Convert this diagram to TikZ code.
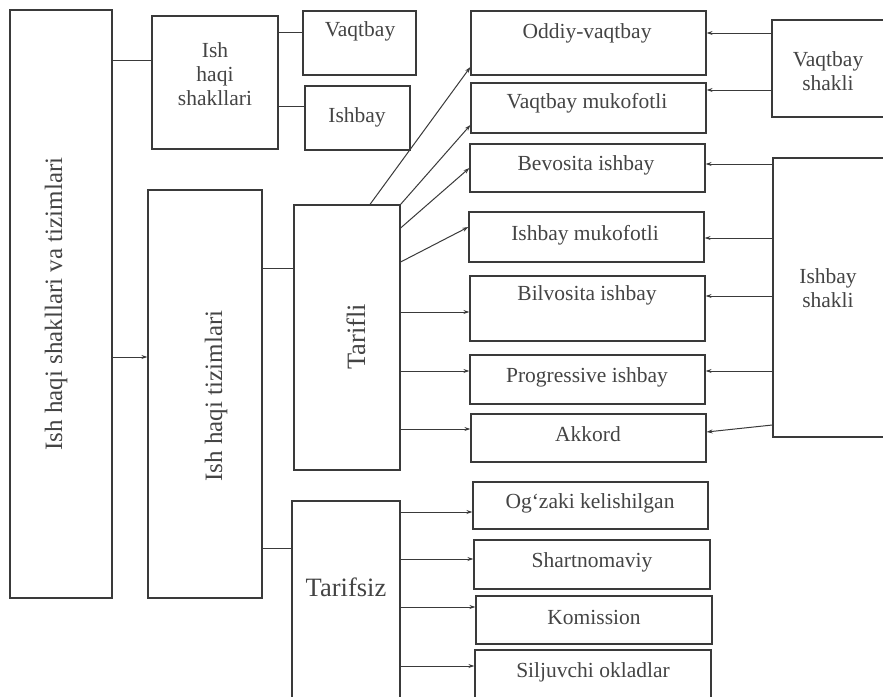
\documentclass[tikz,border=0pt]{standalone}
\usepackage{fontspec}
\setmainfont{Liberation Serif}
\usetikzlibrary{arrows.meta}
\definecolor{ink}{HTML}{3A3A3A}
\definecolor{txt}{HTML}{444444}
\tikzset{
  box/.style={draw=ink, line width=1.2pt, inner sep=0pt},
  ln/.style={draw=ink, line width=1pt},
  arr/.style={draw=ink, line width=1pt, -{Stealth[length=6pt,width=4pt]}},
  lbl/.style={text=txt, inner sep=0pt, font=\fontsize{21.5}{24}\selectfont, align=center},
  biglbl/.style={text=txt, inner sep=0pt, font=\fontsize{25}{28}\selectfont},
  midlbl/.style={text=txt, inner sep=0pt, font=\fontsize{26.5}{28}\selectfont},
}
\newcommand\bx[5]{\node[box, minimum width={(#4-#2)*1pt}, minimum height={(#5-#3)*1pt}] (#1) at ({(#2+#4)/2},{(#3+#5)/2}) {};}
\begin{document}
\begin{tikzpicture}[x=1pt,y=-1pt]
\useasboundingbox[fill=white] (0,0) rectangle (883,696);
% boxes
\bx{big}{10}{10}{112}{598}
\bx{shak}{152}{16}{278}{149}
\bx{vaq}{303}{11}{416}{75}
\bx{ish}{305}{86}{410}{150}
\bx{tiz}{148}{190}{262}{598}
\bx{tarifli}{294}{205}{400}{470}
\bx{tarifsiz}{292}{501}{400}{710}
\bx{oddiy}{471}{11}{706}{75}
\bx{vmuk}{471}{83}{706}{133}
\bx{bevo}{470}{144}{705}{192}
\bx{imuk}{469}{212}{704}{262}
\bx{bilvo}{470}{276}{705}{341}
\bx{prog}{470}{355}{705}{404}
\bx{akk}{471}{414}{706}{462}
\bx{ogz}{473}{482}{708}{529}
\bx{shart}{474}{540}{710}{589}
\bx{kom}{476}{596}{712}{644}
\bx{silj}{475}{650}{711}{710}
\bx{vsh}{772}{20}{895}{117}
\bx{ishsh}{773}{158}{895}{437}
% labels
\node[biglbl, rotate=90] (bigt) at (56,304) {Ish haqi shakllari va tizimlari};
\node[lbl] (shakt) at (215,74) {Ish\\haqi\\shakllari};
\node[lbl] (vaqt) at (360,31) {Vaqtbay};
\node[lbl] (isht) at (357,117) {Ishbay};
\node[biglbl, rotate=90] (tizt) at (216,396) {Ish haqi tizimlari};
\node[midlbl, rotate=90] (tariflit) at (356,337) {Tarifli};
\node[midlbl] (tarifsizt) at (346,587) {Tarifsiz};
\node[lbl] (oddiyt) at (587,33) {Oddiy-vaqtbay};
\node[lbl] (vmukt) at (587,103) {Vaqtbay mukofotli};
\node[lbl] (bevot) at (586,165) {Bevosita ishbay};
\node[lbl] (imukt) at (585,235) {Ishbay mukofotli};
\node[lbl] (bilvot) at (587,295) {Bilvosita ishbay};
\node[lbl] (progt) at (587,377) {Progressive ishbay};
\node[lbl] (akkt) at (588,434) {Akkord};
\node[lbl] (ogzt) at (590,503) {Og‘zaki kelishilgan};
\node[lbl] (shartt) at (592,562) {Shartnomaviy};
\node[lbl] (komt) at (594,617) {Komission};
\node[lbl] (siljt) at (593,672) {Siljuvchi okladlar};
\node[lbl] (vsht) at (828,71) {Vaqtbay\\shakli};
\node[lbl] (ishsht) at (828,288) {Ishbay\\shakli};
% connectors
\draw[ln] (big.east |- 0,60) -- (shak.west |- 0,60);
\draw[ln] (shak.east |- 0,32) -- (vaq.west |- 0,32);
\draw[ln] (shak.east |- 0,106) -- (ish.west |- 0,106);
\draw[arr] (big.east |- 0,357) -- (tiz.west |- 0,357);
\draw[ln] (tiz.east |- 0,268) -- (tarifli.west |- 0,268);
\draw[ln] (tiz.east |- 0,548) -- (tarifsiz.west |- 0,548);
\draw[arr] (tarifli.north -| 370,0) -- (oddiy.west |- 0,67);
\draw[arr] (tarifli.north east) -- (vmuk.west |- 0,125);
\draw[arr] (tarifli.east |- 0,228) -- (bevo.west |- 0,168);
\draw[arr] (tarifli.east |- 0,262) -- (imuk.west |- 0,227);
\draw[arr] (tarifli.east |- 0,312) -- (bilvo.west |- 0,312);
\draw[arr] (tarifli.east |- 0,371) -- (prog.west |- 0,371);
\draw[arr] (tarifli.east |- 0,429) -- (akk.west |- 0,429);
\draw[arr] (vsh.west |- 0,33) -- (oddiy.east |- 0,33);
\draw[arr] (vsh.west |- 0,90) -- (vmuk.east |- 0,90);
\draw[arr] (ishsh.west |- 0,164) -- (bevo.east |- 0,164);
\draw[arr] (ishsh.west |- 0,238) -- (imuk.east |- 0,238);
\draw[arr] (ishsh.west |- 0,296) -- (bilvo.east |- 0,296);
\draw[arr] (ishsh.west |- 0,371) -- (prog.east |- 0,371);
\draw[arr] (ishsh.west |- 0,425) -- (akk.east |- 0,432);
\draw[arr] (tarifsiz.east |- 0,512) -- (ogz.west |- 0,512);
\draw[arr] (tarifsiz.east |- 0,559) -- (shart.west |- 0,559);
\draw[arr] (tarifsiz.east |- 0,607) -- (kom.west |- 0,607);
\draw[arr] (tarifsiz.east |- 0,666) -- (silj.west |- 0,666);
\end{tikzpicture}
\end{document}
